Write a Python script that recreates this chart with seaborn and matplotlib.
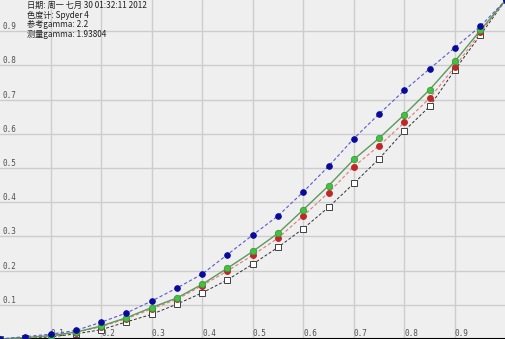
import matplotlib
matplotlib.use("Agg")
import matplotlib.pyplot as plt
import seaborn as sns
import pandas as pd

x_vals = [0.0, 0.05, 0.10, 0.15, 0.20, 0.25, 0.30, 0.35, 0.40, 0.45, 0.50,
          0.55, 0.60, 0.65, 0.70, 0.75, 0.80, 0.85, 0.90, 0.95, 1.0]
blue_vals = [0.0, 0.007, 0.014, 0.025, 0.049, 0.076, 0.111, 0.149, 0.190, 0.247, 0.304,
             0.360, 0.430, 0.505, 0.586, 0.658, 0.727, 0.790, 0.852, 0.914, 0.99]
green_vals = [0.0, 0.004, 0.010, 0.020, 0.038, 0.062, 0.092, 0.120, 0.160, 0.207, 0.256,
              0.309, 0.378, 0.448, 0.525, 0.587, 0.656, 0.729, 0.812, 0.902, 0.99]
red_vals = [0.0, 0.003, 0.009, 0.019, 0.036, 0.059, 0.088, 0.116, 0.156, 0.199, 0.245,
            0.295, 0.360, 0.428, 0.504, 0.565, 0.633, 0.704, 0.796, 0.896, 0.99]
ref_vals = [0.0, 0.002, 0.006, 0.015, 0.027, 0.050, 0.072, 0.102, 0.135, 0.173, 0.219,
            0.268, 0.323, 0.385, 0.455, 0.527, 0.609, 0.680, 0.787, 0.888, 0.99]
tick_vals = [0.1, 0.2, 0.3, 0.4, 0.5, 0.6, 0.7, 0.8, 0.9]
tick_labels = ["0.1", "0.2", "0.3", "0.4", "0.5", "0.6", "0.7", "0.8", "0.9"]
info_lines = ["日期: 周一 七月 30 01:32:11 2012",
              "色度计: Spyder 4",
              "参考gamma: 2.2",
              "测量gamma: 1.93804"]

sns.set_theme(style="white")
plt.rcParams['font.family'] = ['Noto Sans CJK SC', 'DejaVu Sans']

df = pd.DataFrame({"x": x_vals, "blue": blue_vals, "green": green_vals,
                   "red": red_vals, "ref": ref_vals})

fig = plt.figure(figsize=(5.05, 3.39), dpi=100)
ax = fig.add_axes([0, 0, 1, 1])
ax.set_facecolor("#efefef")
fig.patch.set_facecolor("#efefef")

sns.lineplot(data=df, x="x", y="ref", ax=ax, color="#303030", lw=0.7,
             linestyle=(0, (3, 2)), marker="s", markersize=4.2,
             markerfacecolor="white", markeredgecolor="#404040", markeredgewidth=0.7, zorder=3)
sns.lineplot(data=df, x="x", y="red", ax=ax, color="#e07a7a", lw=0.8,
             linestyle=(0, (3, 2)), marker="o", markersize=4.2,
             markerfacecolor="#c02828", markeredgecolor="#c02828", zorder=4)
sns.lineplot(data=df, x="x", y="green", ax=ax, color="#5a9a5a", lw=1.0,
             linestyle="-", marker="o", markersize=4.6,
             markerfacecolor="#44c044", markeredgecolor="#3a9a3a", markeredgewidth=0.6, zorder=5)
sns.lineplot(data=df, x="x", y="blue", ax=ax, color="#5a5ac8", lw=0.8,
             linestyle=(0, (3, 2)), marker="o", markersize=4.0,
             markerfacecolor="#0a0a9a", markeredgecolor="#0a0a9a", zorder=6)

ax.set_xlim(0, 0.999)
ax.set_ylim(0, 0.991)
ax.set_xticks(tick_vals)
ax.set_yticks(tick_vals)
ax.set_xticklabels(tick_labels)
ax.set_yticklabels(tick_labels)
ax.grid(True, color="#cdcdcd", lw=1.0)
ax.set_axisbelow(True)
ax.set_xlabel("")
ax.set_ylabel("")

ax.tick_params(axis="both", length=0, labelsize=5.5, labelcolor="#505050")
ax.tick_params(axis="y", pad=-2)
ax.tick_params(axis="x", pad=-1)
for lab in ax.get_yticklabels() + ax.get_xticklabels():
    lab.set_horizontalalignment("left")
    lab.set_verticalalignment("bottom")
    lab.set_family(["DejaVu Sans Mono"])

for s in ["top", "left", "right"]:
    ax.spines[s].set_visible(False)
ax.spines["bottom"].set_color("black")
ax.spines["bottom"].set_linewidth(1.5)

for i, line in enumerate(info_lines):
    fig.text(27 / 505, 1 - (1.0 + i * 9.5) / 339, line, fontsize=5.9,
             color="#202020", va="top", ha="left")

fig.savefig("out.png", dpi=100, facecolor=fig.get_facecolor())
